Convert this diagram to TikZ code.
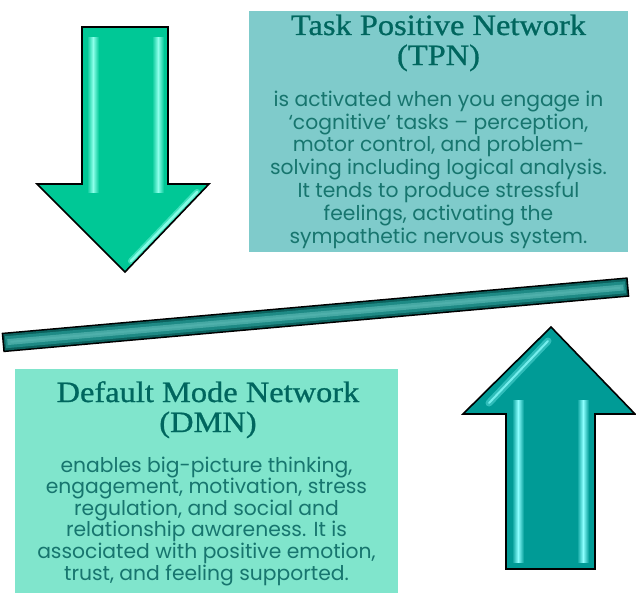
\documentclass[tikz,border=0pt]{standalone}
\usepackage{fontspec}
\setmainfont{Poppins}
\newfontfamily\headfont[FakeStretch=1.1, FakeBold=0.8]{Liberation Serif}

\definecolor{tpnfill}{HTML}{7FCBCB}
\definecolor{dmnfill}{HTML}{80E5CC}
\definecolor{titletext}{HTML}{00665E}
\definecolor{bodytext}{HTML}{17756E}
\definecolor{greenarrow}{HTML}{00C896}
\definecolor{greenshine}{HTML}{8CFFEA}
\definecolor{tealarrow}{HTML}{009B96}
\definecolor{tealshine}{HTML}{8CFFFF}
\definecolor{beamdark}{HTML}{0C625E}
\definecolor{beammid}{HTML}{1E8A85}
\definecolor{beamlight}{HTML}{4FB0AB}

% multi-line text nodes are placed by the baseline of their last line
\tikzset{
  panel/.style={inner sep=0pt, outer sep=0pt},
  heading/.style={font=\headfont\fontsize{29.5}{30}\selectfont, text=titletext,
                  align=center, anchor=base, inner sep=0pt},
  blurb/.style={font=\fontsize{20.3}{22.8}\selectfont, text=bodytext,
                align=center, anchor=base, inner sep=0pt},
  arrowedge/.style={draw=black, line width=1.6pt, line join=miter},
  shine/.style={line cap=round, line width=2.5pt},
}

\begin{document}
\begin{tikzpicture}[x=1pt, y=-1pt]
\useasboundingbox (0,0) rectangle (636,594);

% ---- text panels ----
\node[panel, fill=tpnfill, minimum width=379pt, minimum height=241pt] (tpn) at (438.5,131.5) {};
\node[panel, fill=dmnfill, minimum width=383pt, minimum height=224pt] (dmn) at (206.5,481) {};

\node[heading] (tpntitle) at (438.5,65) {Task Positive Network\\(TPN)};
\node[blurb] (tpntext) at (438.5,243) {is activated when you engage in\\
  ‘cognitive’ tasks – perception,\\
  motor control, and problem-\\
  solving including logical analysis.\\
  It tends to produce stressful\\
  feelings, activating the\\
  sympathetic nervous system.};

\node[heading] (dmntitle) at (208,432) {Default Mode Network\\(DMN)};
\node[blurb, font=\fontsize{20.3}{21.6}\selectfont] (dmntext) at (206.5,580) {enables big-picture thinking,\\
  engagement, motivation, stress\\
  regulation, and social and\\
  relationship awareness. It is\\
  associated with positive emotion,\\
  trust, and feeling supported.};

% ---- tilted beam ----
\coordinate (beamL) at (2.5,342.5);
\coordinate (beamR) at (628.5,287);
\draw[line width=19.5pt, black] (beamL) -- (beamR);
\draw[line width=16.5pt, beamdark, shorten <=1.6pt, shorten >=1.6pt] (beamL) -- (beamR);
\draw[line width=12pt, beammid, shorten <=3pt, shorten >=3pt] (beamL) -- (beamR);
\draw[line width=6pt, beamlight!80!beammid, shorten <=5pt, shorten >=5pt] (beamL) -- (beamR);
\draw[line width=2pt, beamlight, shorten <=8pt, shorten >=8pt] (beamL) -- (beamR);

% ---- downward arrow ----
\fill[greenarrow] (82,27) -- (168,27) -- (168,184) -- (209,184) -- (125,272)
  -- (37,184) -- (82,184) -- cycle;
\shade[left color=greenarrow, right color=greenarrow, middle color=greenshine]
  (87,38) rectangle (99,192);
\shade[left color=greenarrow, right color=greenarrow, middle color=greenshine]
  (152,38) rectangle (164,192);
\draw[shine, greenshine, opacity=0.45, line width=6pt] (197,192) -- (131,261);
\draw[shine, greenshine, opacity=0.9] (197,192) -- (131,261);
\draw[arrowedge] (82,27) -- (168,27) -- (168,184) -- (209,184) -- (125,272)
  -- (37,184) -- (82,184) -- cycle;

% ---- upward arrow ----
\fill[tealarrow] (551,327) -- (635,414) -- (595,414) -- (595,569) -- (506,569)
  -- (506,414) -- (463,414) -- cycle;
\shade[left color=tealarrow, right color=tealarrow, middle color=tealshine]
  (512,400) rectangle (524,562);
\shade[left color=tealarrow, right color=tealarrow, middle color=tealshine]
  (577,400) rectangle (589,562);
\draw[shine, tealshine, opacity=0.35, line width=7pt] (548,341) -- (489,403);
\draw[shine, tealshine, opacity=0.75, line width=2pt] (548,341) -- (489,403);
\draw[arrowedge] (551,327) -- (635,414) -- (595,414) -- (595,569) -- (506,569)
  -- (506,414) -- (463,414) -- cycle;
\end{tikzpicture}
\end{document}
